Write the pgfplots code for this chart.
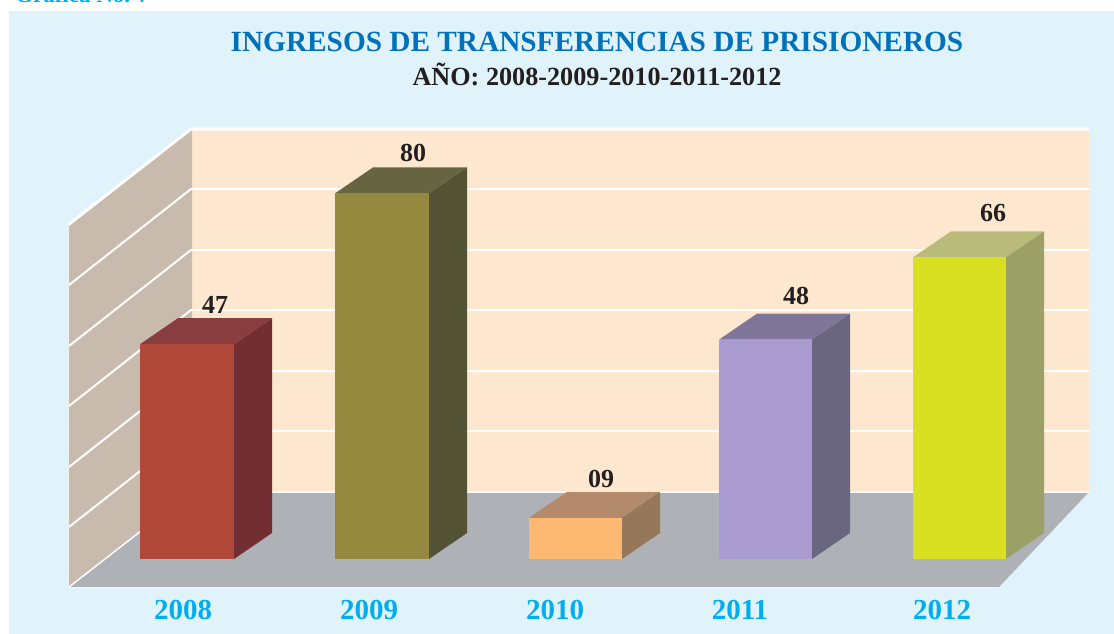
\documentclass[border=0pt]{standalone}
\usepackage{pgfplots}
\pgfplotsset{compat=1.18}
\usepackage{fontspec}
\setmainfont{Liberation Serif}

\definecolor{panel}{HTML}{E0F3FB}
\definecolor{backwall}{HTML}{FEE7CF}
\definecolor{sidewall}{HTML}{C8BAAD}
\definecolor{floorc}{HTML}{AEB2B6}
\definecolor{titleblue}{HTML}{0072BC}
\definecolor{yearblue}{HTML}{00AEEF}
\definecolor{ink}{HTML}{231F20}
\definecolor{bar1}{HTML}{B0483A}
\definecolor{bar1side}{HTML}{722E32}
\definecolor{bar1top}{HTML}{8A3D3F}
\definecolor{bar2}{HTML}{94893F}
\definecolor{bar2side}{HTML}{545235}
\definecolor{bar2top}{HTML}{676442}
\definecolor{bar3}{HTML}{FDB871}
\definecolor{bar3side}{HTML}{96775A}
\definecolor{bar3top}{HTML}{B38A6B}
\definecolor{bar4}{HTML}{A99BCF}
\definecolor{bar4side}{HTML}{6B6680}
\definecolor{bar4top}{HTML}{80769A}
\definecolor{bar5}{HTML}{D8E021}
\definecolor{bar5side}{HTML}{9BA066}
\definecolor{bar5top}{HTML}{B8BB7A}

\pgfplotsset{
    full/.style={
        at={(0pt,0pt)}, anchor=south west,
        width=1114pt, height=634pt, scale only axis,
        xmin=0, xmax=1114,
        axis line style={draw=none},
        major tick length=0pt,
    },
}

\begin{document}
\begin{tikzpicture}
\path[use as bounding box,clip] (0pt,0pt) rectangle (1114pt,634pt);

% backdrop, in pixels of the picture (y downwards)
\begin{axis}[full, ymin=0, ymax=634, y dir=reverse, xtick=\empty, ytick=\empty]
\addplot[fill=panel,draw=none] coordinates {(9,11)(1114,11)(1114,634)(9,634)};
\addplot[fill=backwall,draw=none] coordinates {(192,129)(1089,129)(1089,492)(192,492)};
\addplot[fill=sidewall,draw=none] coordinates {(69,225)(192,129)(192,492)(69,587)};
\addplot[fill=floorc,draw=none] coordinates {(192,492)(1089,492)(999,587)(69,587)};
% gridlines
\addplot[white,line width=3pt] coordinates {(68,225)(191,129)(1089,129)};
\addplot[white,line width=2pt] coordinates {(69,285)(191,189)(1089,189)};
\addplot[white,line width=2pt] coordinates {(69,346)(191,250)(1089,250)};
\addplot[white,line width=2pt] coordinates {(69,406)(191,310)(1089,310)};
\addplot[white,line width=2pt] coordinates {(69,467)(191,371)(1089,371)};
\addplot[white,line width=2pt] coordinates {(69,527)(191,431)(1089,431)};
\addplot[white,line width=1.5pt] coordinates {(69,587)(191,492)(1089,492)};
\addplot[white!80!floorc,line width=1pt] coordinates {(68.5,225)(68.5,587)(999,587)};
\node[anchor=base west,inner sep=0pt,text=yearblue,font=\fontsize{23}{23}\selectfont\bfseries] at (axis cs:15,3) {Gráfica No. 7};
\node[anchor=base,text=titleblue,font=\fontsize{29.3}{29.3}\selectfont\bfseries] at (axis cs:597,52) {INGRESOS DE TRANSFERENCIAS DE PRISIONEROS};
\node[anchor=base,text=ink,font=\fontsize{26.2}{26.2}\selectfont\bfseries] at (axis cs:597,85) {AÑO: 2008-2009-2010-2011-2012};
\end{axis}

% bars: x in pixels, y in prisoners; the depth is 38 px and 5.69 units
\begin{axis}[full, ymin=-16.41, ymax=122.32, ytick=\empty,
    xtick={183,369,555,740,942},
    xticklabels={2008,2009,2010,2011,2012},
    x tick label style={text=yearblue,font=\fontsize{29}{29}\selectfont\bfseries,anchor=center,yshift=24pt},
]
% 2008
\addplot[fill=bar1top,draw=none] coordinates {(140,47)(234,47)(272,52.69)(178,52.69)};
\addplot[fill=bar1side,draw=none] coordinates {(234,0)(272,5.69)(272,52.69)(234,47)};
\addplot[fill=bar1,draw=none] coordinates {(140,0)(234,0)(234,47)(140,47)};
% 2009
\addplot[fill=bar2top,draw=none] coordinates {(335,80)(429,80)(467,85.69)(373,85.69)};
\addplot[fill=bar2side,draw=none] coordinates {(429,0)(467,5.69)(467,85.69)(429,80)};
\addplot[fill=bar2,draw=none] coordinates {(335,0)(429,0)(429,80)(335,80)};
% 2010
\addplot[fill=bar3top,draw=none] coordinates {(529,9)(622,9)(660,14.69)(567,14.69)};
\addplot[fill=bar3side,draw=none] coordinates {(622,0)(660,5.69)(660,14.69)(622,9)};
\addplot[fill=bar3,draw=none] coordinates {(529,0)(622,0)(622,9)(529,9)};
% 2011
\addplot[fill=bar4top,draw=none] coordinates {(719,48)(812,48)(850,53.69)(757,53.69)};
\addplot[fill=bar4side,draw=none] coordinates {(812,0)(850,5.69)(850,53.69)(812,48)};
\addplot[fill=bar4,draw=none] coordinates {(719,0)(812,0)(812,48)(719,48)};
% 2012
\addplot[fill=bar5top,draw=none] coordinates {(913,66)(1006,66)(1044,71.69)(951,71.69)};
\addplot[fill=bar5side,draw=none] coordinates {(1006,0)(1044,5.69)(1044,71.69)(1006,66)};
\addplot[fill=bar5,draw=none] coordinates {(913,0)(1006,0)(1006,66)(913,66)};
% value labels
\addplot[draw=none,
    point meta=explicit symbolic,
    nodes near coords,
    nodes near coords align={anchor=center},
    every node near coord/.append style={text=ink,yshift=40pt,font=\fontsize{26}{26}\selectfont\bfseries},
] coordinates {(215,46.8)[47] (413,80.2)[80] (601,8.8)[09] (796,48.9)[48] (993,66.9)[66]};
\end{axis}
\end{tikzpicture}
\end{document}
